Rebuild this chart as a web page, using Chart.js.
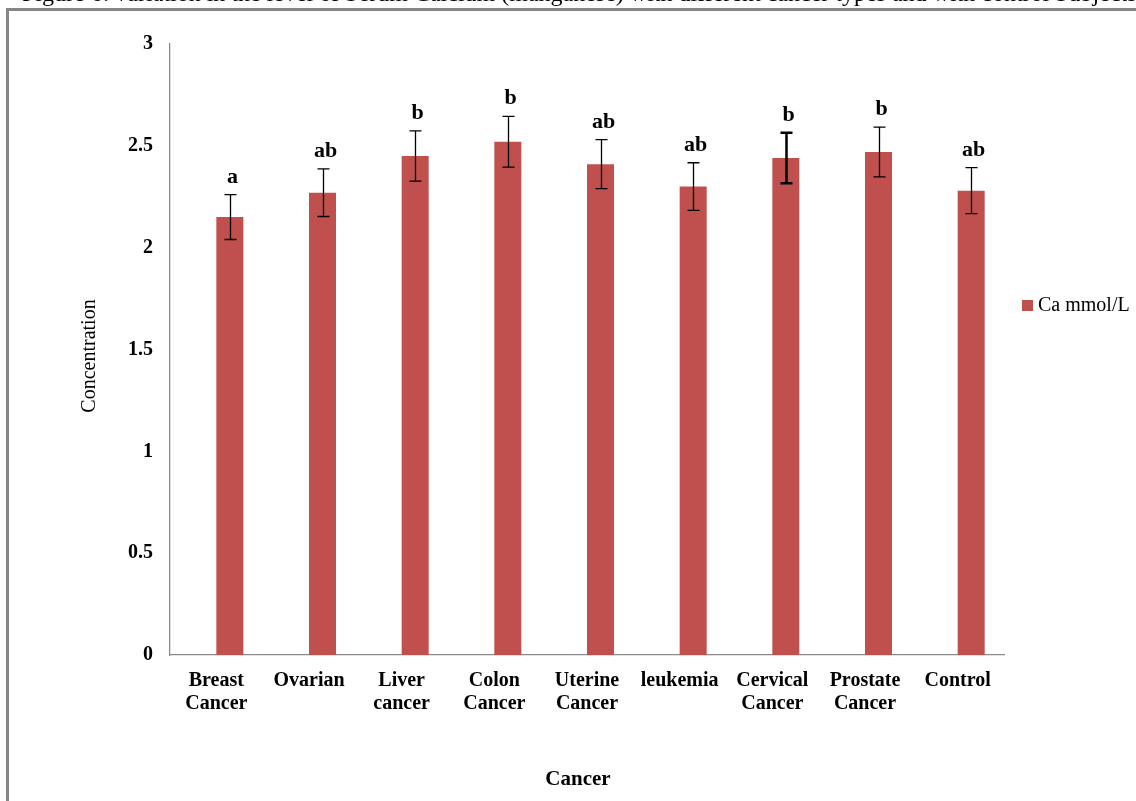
<!DOCTYPE html>
<html>
<head>
<meta charset="utf-8">
<title>Serum calcium by cancer type</title>
<script src="https://cdn.jsdelivr.net/npm/chart.js@4.4.0/dist/chart.umd.min.js"></script>
<style>
  html, body { margin: 0; padding: 0; background: #fff; overflow: hidden; }
  #wrap { position: relative; width: 1136px; height: 801px; }
</style>
</head>
<body>
<div id="wrap"><canvas id="caChart" width="1136" height="801"></canvas></div>
<script>
// groups on the x axis (multi-line labels)
var cancers = [["Breast", "Cancer"], ["Ovarian"], ["Liver", "cancer"], ["Colon", "Cancer"],
               ["Uterine", "Cancer"], ["leukemia"], ["Cervical", "Cancer"], ["Prostate", "Cancer"], ["Control"]];
// mean Ca (mmol/L) and its error
var caMeans  = [2.15, 2.27, 2.45, 2.52, 2.41, 2.30, 2.44, 2.47, 2.28];
var caErrors = [0.11, 0.117, 0.123, 0.125, 0.12, 0.117, 0.124, 0.122, 0.113];
// significance letters above each bar
var groupLetters = ["a", "ab", "b", "b", "ab", "ab", "b", "b", "ab"];
var yTicks = [0, 0.5, 1, 1.5, 2, 2.5, 3];

var serif = "'Liberation Serif', 'Times New Roman', serif";
var barRed = "#C0504D";

// error whiskers + letters on top of the Ca series
var whiskers = {
  id: 'whiskers',
  afterDatasetsDraw: function (chart) {
    var ctx = chart.ctx;
    var y = chart.scales.y;
    var meta = chart.getDatasetMeta(1);
    ctx.save();
    meta.data.forEach(function (bar, i) {
      var top = y.getPixelForValue(caMeans[i] + caErrors[i]);
      var bottom = y.getPixelForValue(caMeans[i] - caErrors[i]);
      var x = Math.round(bar.x) + 0.5;
      ctx.strokeStyle = '#000';
      ctx.lineWidth = (i === 6) ? 2.5 : 1.3;
      ctx.beginPath();
      ctx.moveTo(x, top); ctx.lineTo(x, bottom);
      ctx.moveTo(x - 6, top); ctx.lineTo(x + 6, top);
      ctx.moveTo(x - 6, bottom); ctx.lineTo(x + 6, bottom);
      ctx.stroke();

      ctx.fillStyle = '#000';
      ctx.font = 'bold 22px ' + serif;
      ctx.textAlign = 'center';
      ctx.textBaseline = 'alphabetic';
      ctx.fillText(groupLetters[i], x + 2, top - 12);
    });
    ctx.restore();
  }
};

// outer frame, caption line, axis titles and the legend
var decor = {
  id: 'decor',
  beforeDraw: function (chart) {
    var ctx = chart.ctx;
    ctx.save();
    ctx.fillStyle = '#fff';
    ctx.fillRect(0, 0, chart.width, chart.height);
    ctx.strokeStyle = '#878787';
    ctx.lineWidth = 3;
    ctx.beginPath();
    ctx.moveTo(7.5, chart.height + 5);
    ctx.lineTo(7.5, 9.5);
    ctx.lineTo(chart.width + 5, 9.5);
    ctx.stroke();
    ctx.restore();
  },
  afterDraw: function (chart) {
    var ctx = chart.ctx;
    ctx.save();
    ctx.fillStyle = '#000';

    // caption sits above the frame and runs off the top edge
    ctx.font = '24px ' + serif;
    ctx.textAlign = 'left';
    ctx.textBaseline = 'alphabetic';
    ctx.fillText('Figure 6: variation in the level of Serum Calcium (manganese) with different cancer types and with control Subjects', 22, 0.5);

    ctx.font = 'bold 21px ' + serif;
    ctx.textAlign = 'center';
    ctx.textBaseline = 'middle';
    ctx.fillText('Cancer', 578, 780);

    ctx.save();
    ctx.translate(90, 356);
    ctx.rotate(-Math.PI / 2);
    ctx.font = '20px ' + serif;
    ctx.fillText('Concentration', 0, 0);
    ctx.restore();

    ctx.fillStyle = barRed;
    ctx.fillRect(1022, 300, 11, 11);
    ctx.fillStyle = '#000';
    ctx.font = '20px ' + serif;
    ctx.textAlign = 'left';
    ctx.fillText(chart.data.datasets[1].label, 1038, 306);
    ctx.restore();
  }
};

new Chart(document.getElementById('caChart'), {
  type: 'bar',
  data: {
    labels: cancers,
    datasets: [
      // empty first series keeps the Ca bar on the right half of each group
      { label: '', data: cancers.map(function () { return null; }), backgroundColor: 'rgba(0,0,0,0)' },
      { label: 'Ca mmol/L', data: caMeans, backgroundColor: barRed, borderWidth: 0 }
    ]
  },
  options: {
    responsive: false,
    animation: false,
    categoryPercentage: 0.583,
    barPercentage: 1.0,
    layout: { padding: { left: 0, top: 44, right: 132, bottom: 0 } },
    plugins: {
      legend: { display: false },
      tooltip: { enabled: false },
      title: { display: false }
    },
    scales: {
      x: {
        grid: { display: false, drawTicks: false },
        border: { display: true, color: '#8a8a8a', width: 1.3 },
        ticks: {
          color: '#000',
          padding: 14,
          maxRotation: 0,
          autoSkip: false,
          font: { family: serif, size: 20, weight: 'bold', lineHeight: 1.17 }
        },
        afterFit: function (scale) { scale.height = 801 - 655; }
      },
      y: {
        min: 0,
        max: 3,
        grid: { display: false, drawTicks: false },
        border: { display: true, color: '#8a8a8a', width: 1.3 },
        afterBuildTicks: function (scale) {
          scale.ticks = yTicks.map(function (v) { return { value: v }; });
        },
        ticks: {
          color: '#000',
          padding: 17,
          font: { family: serif, size: 20, weight: 'bold' },
          callback: function (value) { return String(value); }
        },
        afterFit: function (scale) { scale.width = 170; }
      }
    }
  },
  plugins: [decor, whiskers]
});
</script>
</body>
</html>
